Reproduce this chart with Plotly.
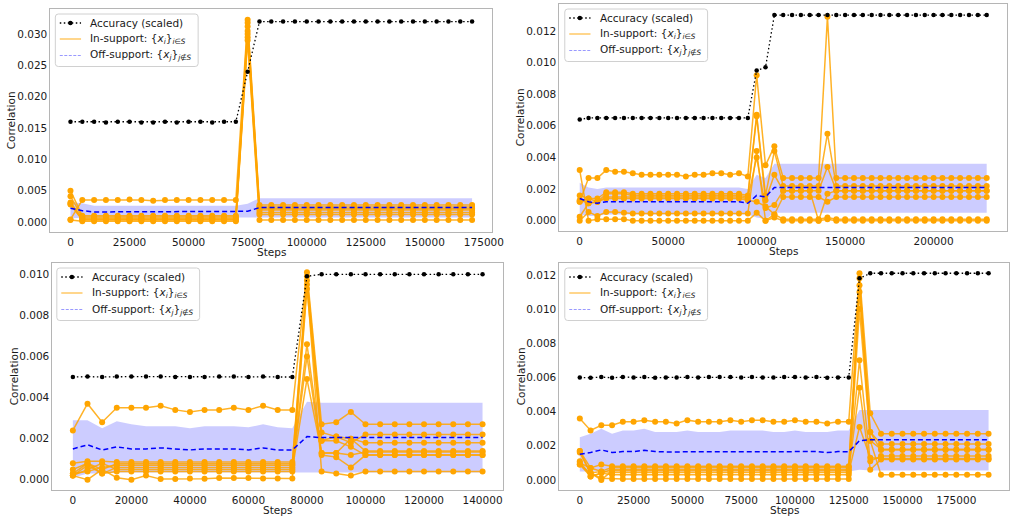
import plotly.graph_objects as go

W, H = 1023, 516

# ---------------- panel A: 0 .. 170000 steps ----------------
steps_a = list(range(0, 170001, 5000))
acc_a = [0.0160, 0.0160, 0.0160, 0.0159, 0.0160,
         0.0160, 0.0159, 0.0159, 0.0160, 0.0159,
         0.0160, 0.0160, 0.0159, 0.0160, 0.0160,
         0.0240, 0.0320, 0.0320, 0.0320, 0.0320,
         0.0320, 0.0320, 0.0320, 0.0320, 0.0320,
         0.0320, 0.0320, 0.0320, 0.0320, 0.0320,
         0.0320, 0.0320, 0.0320, 0.0320, 0.0320]
ins_a = [
    [0.0004, 0.0035, 0.0035, 0.0035, 0.0035,
     0.0036, 0.0035, 0.0034, 0.0035, 0.0035,
     0.0035, 0.0035, 0.0035, 0.0035, 0.0035,
     0.0323, 0.0027, 0.0027, 0.0027, 0.0027,
     0.0027, 0.0027, 0.0027, 0.0027, 0.0027,
     0.0027, 0.0027, 0.0027, 0.0027, 0.0027,
     0.0027, 0.0027, 0.0027, 0.0027, 0.0027],
    [0.0050, 0.0010, 0.0010, 0.0010, 0.0010,
     0.0010, 0.0010, 0.0010, 0.0010, 0.0010,
     0.0010, 0.0010, 0.0010, 0.0010, 0.0010,
     0.0318, 0.0024, 0.0024, 0.0024, 0.0024,
     0.0024, 0.0024, 0.0024, 0.0024, 0.0024,
     0.0024, 0.0024, 0.0024, 0.0024, 0.0024,
     0.0024, 0.0024, 0.0024, 0.0024, 0.0024],
    [0.0041, 0.0008, 0.0008, 0.0008, 0.0008,
     0.0008, 0.0008, 0.0008, 0.0008, 0.0008,
     0.0008, 0.0008, 0.0008, 0.0008, 0.0008,
     0.0312, 0.0021, 0.0021, 0.0021, 0.0021,
     0.0021, 0.0021, 0.0021, 0.0021, 0.0021,
     0.0021, 0.0021, 0.0021, 0.0021, 0.0021,
     0.0021, 0.0021, 0.0021, 0.0021, 0.0021],
    [0.0031, 0.0006, 0.0006, 0.0006, 0.0006,
     0.0006, 0.0006, 0.0006, 0.0006, 0.0006,
     0.0006, 0.0006, 0.0006, 0.0006, 0.0006,
     0.0305, 0.0019, 0.0019, 0.0019, 0.0019,
     0.0019, 0.0019, 0.0019, 0.0019, 0.0019,
     0.0019, 0.0019, 0.0019, 0.0019, 0.0019,
     0.0019, 0.0019, 0.0019, 0.0019, 0.0019],
    [0.0029, 0.0004, 0.0004, 0.0004, 0.0004,
     0.0004, 0.0004, 0.0004, 0.0004, 0.0004,
     0.0004, 0.0004, 0.0004, 0.0004, 0.0004,
     0.0300, 0.0015, 0.0015, 0.0015, 0.0015,
     0.0015, 0.0015, 0.0015, 0.0015, 0.0015,
     0.0015, 0.0015, 0.0015, 0.0015, 0.0015,
     0.0015, 0.0015, 0.0015, 0.0015, 0.0015],
    [0.0028, 0.0003, 0.0003, 0.0003, 0.0003,
     0.0003, 0.0003, 0.0003, 0.0003, 0.0003,
     0.0003, 0.0003, 0.0003, 0.0003, 0.0003,
     0.0295, 0.0012, 0.0012, 0.0012, 0.0012,
     0.0012, 0.0012, 0.0012, 0.0012, 0.0012,
     0.0012, 0.0012, 0.0012, 0.0012, 0.0012,
     0.0012, 0.0012, 0.0012, 0.0012, 0.0012],
    [0.0003, 0.0001, 0.0001, 0.0001, 0.0001,
     0.0001, 0.0001, 0.0001, 0.0001, 0.0001,
     0.0001, 0.0001, 0.0001, 0.0001, 0.0001,
     0.0290, 0.0003, 0.0003, 0.0003, 0.0003,
     0.0003, 0.0003, 0.0003, 0.0003, 0.0003,
     0.0003, 0.0003, 0.0003, 0.0003, 0.0003,
     0.0003, 0.0003, 0.0003, 0.0003, 0.0003],
]
mean_a = [0.0022, 0.0018, 0.0016, 0.0016, 0.0016,
          0.0017, 0.0017, 0.0016, 0.0016, 0.0016,
          0.0016, 0.0016, 0.0016, 0.0016, 0.0016,
          0.0017, 0.0023, 0.0023, 0.0023, 0.0023,
          0.0023, 0.0023, 0.0023, 0.0023, 0.0023,
          0.0023, 0.0023, 0.0023, 0.0023, 0.0023,
          0.0023, 0.0023, 0.0023, 0.0023, 0.0023]
upper_a = [0.0032, 0.0030, 0.0026, 0.0026, 0.0026,
           0.0026, 0.0027, 0.0026, 0.0026, 0.0026,
           0.0026, 0.0026, 0.0026, 0.0026, 0.0026,
           0.0029, 0.0038, 0.0038, 0.0038, 0.0038,
           0.0038, 0.0038, 0.0038, 0.0038, 0.0038,
           0.0038, 0.0038, 0.0038, 0.0038, 0.0038,
           0.0038, 0.0038, 0.0038, 0.0038, 0.0038]
lower_a = [0.0006, 0.0007, 0.0007, 0.0007, 0.0007,
           0.0007, 0.0007, 0.0007, 0.0007, 0.0007,
           0.0007, 0.0007, 0.0007, 0.0007, 0.0007,
           0.0007, 0.0007, 0.0007, 0.0007, 0.0007,
           0.0007, 0.0007, 0.0007, 0.0007, 0.0007,
           0.0007, 0.0007, 0.0007, 0.0007, 0.0007,
           0.0007, 0.0007, 0.0007, 0.0007, 0.0007]

# ---------------- panel B: 0 .. 230000 steps ----------------
steps_b = list(range(0, 230001, 5000))
acc_b = [0.0064, 0.0065, 0.0065, 0.0065, 0.0065,
         0.0065, 0.0065, 0.0065, 0.0065, 0.0065,
         0.0065, 0.0065, 0.0065, 0.0065, 0.0065,
         0.0065, 0.0065, 0.0065, 0.0065, 0.0065,
         0.0095, 0.0097, 0.0130, 0.0130, 0.0130,
         0.0130, 0.0130, 0.0130, 0.0130, 0.0130,
         0.0130, 0.0130, 0.0130, 0.0130, 0.0130,
         0.0130, 0.0130, 0.0130, 0.0130, 0.0130,
         0.0130, 0.0130, 0.0130, 0.0130, 0.0130,
         0.0130, 0.0130]
ins_b = [
    [0.0012, 0.0027, 0.0027, 0.0032, 0.0031,
     0.0031, 0.0030, 0.0029, 0.0029, 0.0029,
     0.0029, 0.0029, 0.0028, 0.0029, 0.0029,
     0.0030, 0.0030, 0.0029, 0.0030, 0.0028,
     0.0092, 0.0035, 0.0047, 0.0027, 0.0027,
     0.0027, 0.0027, 0.0027, 0.0129, 0.0027,
     0.0027, 0.0027, 0.0027, 0.0027, 0.0027,
     0.0027, 0.0027, 0.0027, 0.0027, 0.0027,
     0.0027, 0.0027, 0.0027, 0.0027, 0.0027,
     0.0027, 0.0027],
    [0.0032, 0.0000, 0.0001, 0.0001, 0.0001,
     0.0001, 0.0000, 0.0000, 0.0000, 0.0000,
     0.0000, 0.0000, 0.0000, 0.0000, 0.0000,
     0.0000, 0.0000, 0.0000, 0.0000, 0.0000,
     0.0005, 0.0000, 0.0002, 0.0000, 0.0000,
     0.0000, 0.0000, 0.0000, 0.0001, 0.0000,
     0.0000, 0.0000, 0.0000, 0.0000, 0.0000,
     0.0000, 0.0000, 0.0000, 0.0000, 0.0000,
     0.0000, 0.0000, 0.0000, 0.0000, 0.0000,
     0.0000, 0.0000],
    [0.0000, 0.00055, 0.0003, 0.00055, 0.00055,
     0.0005, 0.00045, 0.00045, 0.00045, 0.00045,
     0.00045, 0.00045, 0.00045, 0.00045, 0.00045,
     0.00045, 0.00045, 0.00045, 0.00045, 0.00045,
     0.0044, 0.0000, 0.0004, 0.0001, 0.0001,
     0.0001, 0.0001, 0.0001, 0.0002, 0.0001,
     0.0001, 0.0001, 0.0001, 0.0001, 0.0001,
     0.0001, 0.0001, 0.0001, 0.0001, 0.0001,
     0.0001, 0.0001, 0.0001, 0.0001, 0.0001,
     0.0001, 0.0001],
    [0.0016, 0.0014, 0.0014, 0.0018, 0.0018,
     0.0018, 0.0017, 0.0017, 0.0017, 0.0017,
     0.0017, 0.0017, 0.0017, 0.0017, 0.0017,
     0.0017, 0.0017, 0.0017, 0.0017, 0.0016,
     0.0067, 0.0016, 0.0044, 0.0022, 0.0022,
     0.0022, 0.0022, 0.0022, 0.0055, 0.0022,
     0.0022, 0.0022, 0.0022, 0.0022, 0.0022,
     0.0022, 0.0022, 0.0022, 0.0022, 0.0022,
     0.0022, 0.0022, 0.0022, 0.0022, 0.0022,
     0.0022, 0.0022],
    [0.0013, 0.0011, 0.0012, 0.0017, 0.0017,
     0.0017, 0.0016, 0.0016, 0.0016, 0.0016,
     0.0016, 0.0016, 0.0016, 0.0016, 0.0016,
     0.0016, 0.0016, 0.0016, 0.0016, 0.0015,
     0.0066, 0.0013, 0.0029, 0.0019, 0.0019,
     0.0019, 0.0019, 0.0019, 0.0034, 0.0019,
     0.0019, 0.0019, 0.0019, 0.0019, 0.0019,
     0.0019, 0.0019, 0.0019, 0.0019, 0.0019,
     0.0019, 0.0019, 0.0019, 0.0019, 0.0019,
     0.0019, 0.0019],
    [0.0012, 0.0014, 0.0012, 0.0015, 0.0015,
     0.0015, 0.0015, 0.0015, 0.0015, 0.0015,
     0.0015, 0.0015, 0.0015, 0.0015, 0.0015,
     0.0015, 0.0015, 0.0015, 0.0015, 0.0014,
     0.0040, 0.0008, 0.0010, 0.0019, 0.0019,
     0.0019, 0.0019, 0.0000, 0.0017, 0.0019,
     0.0019, 0.0019, 0.0019, 0.0019, 0.0019,
     0.0019, 0.0019, 0.0019, 0.0019, 0.0019,
     0.0019, 0.0019, 0.0019, 0.0019, 0.0019,
     0.0019, 0.0019],
    [0.00025, 0.0011, 0.0012, 0.0014, 0.0014,
     0.0014, 0.0014, 0.0014, 0.0014, 0.0014,
     0.0014, 0.0014, 0.0014, 0.0014, 0.0014,
     0.0014, 0.0014, 0.0014, 0.0014, 0.0013,
     0.0012, 0.0009, 0.0004, 0.0015, 0.0015,
     0.0015, 0.0015, 0.0015, 0.0012, 0.0015,
     0.0015, 0.0015, 0.0015, 0.0015, 0.0015,
     0.0015, 0.0015, 0.0015, 0.0015, 0.0015,
     0.0015, 0.0015, 0.0015, 0.0015, 0.0015,
     0.0015, 0.0015],
]
mean_b = [0.0014, 0.0012, 0.0011, 0.0012, 0.0012,
          0.0012, 0.0012, 0.0012, 0.0012, 0.0012,
          0.0012, 0.0012, 0.0012, 0.0012, 0.0012,
          0.0012, 0.0012, 0.0012, 0.0012, 0.0011,
          0.0016, 0.0015, 0.0021, 0.0021, 0.0021,
          0.0021, 0.0021, 0.0021, 0.0021, 0.0021,
          0.0021, 0.0021, 0.0021, 0.0021, 0.0021,
          0.0021, 0.0021, 0.0021, 0.0021, 0.0021,
          0.0021, 0.0021, 0.0021, 0.0021, 0.0021,
          0.0021, 0.0021]
upper_b = [0.0024, 0.0021, 0.0020, 0.0021, 0.0021,
           0.0021, 0.0021, 0.0021, 0.0021, 0.0021,
           0.0021, 0.0021, 0.0021, 0.0021, 0.0021,
           0.0021, 0.0021, 0.0021, 0.0021, 0.0020,
           0.0029, 0.0027, 0.0036, 0.0036, 0.0036,
           0.0036, 0.0036, 0.0036, 0.0036, 0.0036,
           0.0036, 0.0036, 0.0036, 0.0036, 0.0036,
           0.0036, 0.0036, 0.0036, 0.0036, 0.0036,
           0.0036, 0.0036, 0.0036, 0.0036, 0.0036,
           0.0036, 0.0036]
lower_b = [0.0004, 0.0003, 0.0003, 0.0004, 0.0004,
           0.0004, 0.0004, 0.0004, 0.0004, 0.0004,
           0.0004, 0.0004, 0.0004, 0.0004, 0.0004,
           0.0004, 0.0004, 0.0004, 0.0004, 0.0004,
           0.0002, 0.0001, 0.0005, 0.0005, 0.0005,
           0.0005, 0.0005, 0.0005, 0.0005, 0.0005,
           0.0005, 0.0005, 0.0005, 0.0005, 0.0005,
           0.0005, 0.0005, 0.0005, 0.0005, 0.0005,
           0.0005, 0.0005, 0.0005, 0.0005, 0.0005,
           0.0005, 0.0005]

# ---------------- panel C: 0 .. 140000 steps ----------------
steps_c = list(range(0, 140001, 5000))
acc_c = [0.0050, 0.00502, 0.0050, 0.00502, 0.00502,
         0.00502, 0.00502, 0.0050, 0.0050, 0.0050,
         0.00502, 0.00502, 0.0050, 0.00502, 0.0050,
         0.0050, 0.0099, 0.0100, 0.0100, 0.0100,
         0.0100, 0.0100, 0.0100, 0.0100, 0.0100,
         0.0100, 0.0100, 0.0100, 0.0100]
ins_c = [
    [0.0024, 0.0037, 0.0028, 0.0035, 0.0035,
     0.0035, 0.0036, 0.0034, 0.0033, 0.0034,
     0.0034, 0.0035, 0.0034, 0.0036, 0.0034,
     0.0034, 0.0101, 0.0027, 0.0028, 0.0033,
     0.0027, 0.0027, 0.0027, 0.0027, 0.0027,
     0.0027, 0.0027, 0.0027, 0.0027],
    [0.0008, 0.0009, 0.0009, 0.00086, 0.00086,
     0.00086, 0.00086, 0.00086, 0.00086, 0.00086,
     0.00086, 0.00086, 0.00086, 0.00086, 0.00086,
     0.00086, 0.0099, 0.0023, 0.0021, 0.0018,
     0.0022, 0.0022, 0.0022, 0.0022, 0.0022,
     0.0022, 0.0022, 0.0022, 0.0022],
    [0.0005, 0.0008, 0.0005, 0.00078, 0.00078,
     0.00078, 0.00078, 0.00078, 0.00078, 0.00078,
     0.00078, 0.00078, 0.00078, 0.00078, 0.00078,
     0.00078, 0.0097, 0.0019, 0.0021, 0.0020,
     0.0018, 0.0018, 0.0018, 0.0018, 0.0018,
     0.0018, 0.0018, 0.0018, 0.0018],
    [0.0003, 0.0004, 0.0006, 0.0007, 0.0007,
     0.0007, 0.0007, 0.0007, 0.0007, 0.0007,
     0.0007, 0.0007, 0.0007, 0.0007, 0.0007,
     0.0007, 0.0066, 0.0013, 0.0013, 0.0020,
     0.0014, 0.0014, 0.0014, 0.0014, 0.0014,
     0.0014, 0.0014, 0.0014, 0.0014],
    [0.0002, 0.0007, 0.0003, 0.0006, 0.0006,
     0.0006, 0.0006, 0.0006, 0.0006, 0.0006,
     0.0006, 0.0006, 0.0006, 0.0006, 0.0006,
     0.0006, 0.0060, 0.0012, 0.0011, 0.0006,
     0.0012, 0.0012, 0.0012, 0.0012, 0.0012,
     0.0012, 0.0012, 0.0012, 0.0012],
    [0.0002, 0.0005, 0.0008, 0.0005, 0.0005,
     0.0005, 0.0005, 0.0005, 0.0005, 0.0005,
     0.0005, 0.0005, 0.0005, 0.0005, 0.0005,
     0.0005, 0.0049, 0.0013, 0.0013, 0.0012,
     0.00135, 0.00135, 0.00135, 0.00135, 0.00135,
     0.00135, 0.00135, 0.00135, 0.00135],
    [0.0003, 0.0008, 0.0003, 0.0004, 0.0004,
     0.0004, 0.0004, 0.0004, 0.0004, 0.0004,
     0.0004, 0.0004, 0.0004, 0.0004, 0.0004,
     0.0004, 0.0095, 0.0004, 0.0003, 0.0002,
     0.0004, 0.0004, 0.0004, 0.0004, 0.0004,
     0.0004, 0.0004, 0.0004, 0.0004],
    [0.0002, 0.0000, 0.0005, 0.0001, 0.0000,
     0.0002, 0.00003, 0.00003, 0.00006, 0.00005,
     0.00008, 0.00008, 0.00008, 0.00006, 0.00006,
     0.00006, 0.0093, 0.0019, 0.0019, 0.0016,
     0.0012, 0.0012, 0.0012, 0.0012, 0.0012,
     0.0012, 0.0012, 0.0012, 0.0012],
]
mean_c = [0.0015, 0.0017, 0.00145, 0.0016, 0.0015,
          0.0015, 0.00155, 0.0015, 0.00145, 0.0015,
          0.0015, 0.0015, 0.00145, 0.00155, 0.00145,
          0.00145, 0.0021, 0.00205, 0.00205, 0.00205,
          0.00205, 0.00205, 0.00205, 0.00205, 0.00205,
          0.00205, 0.00205, 0.00205, 0.00205]
upper_c = [0.0029, 0.0029, 0.0025, 0.00285, 0.0027,
           0.0026, 0.0026, 0.0026, 0.0025, 0.0026,
           0.0026, 0.0026, 0.00255, 0.0027, 0.00255,
           0.0025, 0.0038, 0.00375, 0.00375, 0.00375,
           0.00375, 0.00375, 0.00375, 0.00375, 0.00375,
           0.00375, 0.00375, 0.00375, 0.00375]
lower_c = [0.0001, 0.0003, 0.0003, 0.00035, 0.00035,
           0.00035, 0.00035, 0.00035, 0.00035, 0.00035,
           0.00035, 0.00035, 0.00035, 0.00035, 0.00035,
           0.00035, 0.00035, 0.00035, 0.00035, 0.00035,
           0.00035, 0.00035, 0.00035, 0.00035, 0.00035,
           0.00035, 0.00035, 0.00035, 0.00035]

# ---------------- panel D: 0 .. 190000 steps ----------------
steps_d = list(range(0, 190001, 5000))
acc_d = [0.0060, 0.00598, 0.00602, 0.00598, 0.00602,
         0.0060, 0.00602, 0.00598, 0.0060, 0.0060,
         0.00602, 0.0060, 0.00602, 0.00602, 0.00602,
         0.0060, 0.00602, 0.0060, 0.0060, 0.00602,
         0.00602, 0.0060, 0.00602, 0.00598, 0.0060,
         0.0060, 0.0118, 0.0121, 0.0121, 0.0121,
         0.0121, 0.0121, 0.0121, 0.0121, 0.0121,
         0.0121, 0.0121, 0.0121, 0.0121]
ins_d = [
    [0.0036, 0.0029, 0.0032, 0.0032, 0.0034,
     0.0034, 0.0035, 0.0034, 0.0034, 0.0033,
     0.0035, 0.0034, 0.0034, 0.0034, 0.0035,
     0.0034, 0.0035, 0.0035, 0.0034, 0.0034,
     0.0035, 0.0034, 0.0034, 0.0033, 0.0034,
     0.0034, 0.0121, 0.0039, 0.0027, 0.0027,
     0.0027, 0.0027, 0.0027, 0.0027, 0.0027,
     0.0027, 0.0027, 0.0027, 0.0027],
    [0.0017, 0.0007, 0.0009, 0.0008, 0.0008,
     0.0008, 0.0008, 0.0008, 0.0008, 0.0008,
     0.0008, 0.0008, 0.0008, 0.0008, 0.0008,
     0.0008, 0.0008, 0.0008, 0.0008, 0.0008,
     0.0008, 0.0008, 0.0008, 0.0008, 0.0008,
     0.0008, 0.0118, 0.0028, 0.0021, 0.0021,
     0.0021, 0.0021, 0.0021, 0.0021, 0.0021,
     0.0021, 0.0021, 0.0021, 0.0021],
    [0.0016, 0.0004, 0.0005, 0.00074, 0.00074,
     0.00074, 0.00074, 0.00074, 0.00074, 0.00074,
     0.00074, 0.00074, 0.00074, 0.00074, 0.00074,
     0.00074, 0.00074, 0.00074, 0.00074, 0.00074,
     0.00074, 0.00074, 0.00074, 0.00074, 0.00074,
     0.00074, 0.0110, 0.0023, 0.0018, 0.0018,
     0.0018, 0.0018, 0.0018, 0.0018, 0.0018,
     0.0018, 0.0018, 0.0018, 0.0018],
    [0.0011, 0.0002, 0.0004, 0.00062, 0.00062,
     0.00062, 0.00062, 0.00062, 0.00062, 0.00062,
     0.00062, 0.00062, 0.00062, 0.00062, 0.00062,
     0.00062, 0.00062, 0.00062, 0.00062, 0.00062,
     0.00062, 0.00062, 0.00062, 0.00062, 0.00062,
     0.00062, 0.0070, 0.0011, 0.0014, 0.0014,
     0.0014, 0.0014, 0.0014, 0.0014, 0.0014,
     0.0014, 0.0014, 0.0014, 0.0014],
    [0.0009, 0.0004, 0.0000, 0.00053, 0.00053,
     0.00053, 0.00053, 0.00053, 0.00053, 0.00053,
     0.00053, 0.00053, 0.00053, 0.00053, 0.00053,
     0.00053, 0.00053, 0.00053, 0.00053, 0.00053,
     0.00053, 0.00053, 0.00053, 0.00053, 0.00053,
     0.00053, 0.0054, 0.0006, 0.0012, 0.0012,
     0.0012, 0.0012, 0.0012, 0.0012, 0.0012,
     0.0012, 0.0012, 0.0012, 0.0012],
    [0.0010, 0.0007, 0.0005, 0.00043, 0.00043,
     0.00043, 0.00043, 0.00043, 0.00043, 0.00043,
     0.00043, 0.00043, 0.00043, 0.00043, 0.00043,
     0.00043, 0.00043, 0.00043, 0.00043, 0.00043,
     0.00043, 0.00043, 0.00043, 0.00043, 0.00043,
     0.00043, 0.0031, 0.0013, 0.00125, 0.00125,
     0.00125, 0.00125, 0.00125, 0.00125, 0.00125,
     0.00125, 0.00125, 0.00125, 0.00125],
    [0.0009, 0.0002, 0.0004, 0.0003, 0.0003,
     0.0003, 0.0003, 0.0003, 0.0003, 0.0003,
     0.0003, 0.0003, 0.0003, 0.0003, 0.0003,
     0.0003, 0.0003, 0.0003, 0.0003, 0.0003,
     0.0003, 0.0003, 0.0003, 0.0003, 0.0003,
     0.0003, 0.0100, 0.0023, 0.0003, 0.0003,
     0.0003, 0.0003, 0.0003, 0.0003, 0.0003,
     0.0003, 0.0003, 0.0003, 0.0003],
    [0.0017, 0.0004, 0.0001, 0.00006, 0.00006,
     0.00006, 0.00006, 0.00006, 0.00006, 0.00006,
     0.00006, 0.00006, 0.00006, 0.00006, 0.00006,
     0.00006, 0.00006, 0.00006, 0.00006, 0.00006,
     0.00006, 0.00006, 0.00006, 0.00006, 0.00006,
     0.00006, 0.0114, 0.0028, 0.00175, 0.00175,
     0.00175, 0.00175, 0.00175, 0.00175, 0.00175,
     0.00175, 0.00175, 0.00175, 0.00175],
]
mean_d = [0.0015, 0.0016, 0.00176, 0.0016, 0.00166,
          0.00166, 0.00174, 0.00166, 0.00164, 0.00164,
          0.00166, 0.00166, 0.00166, 0.00168, 0.00166,
          0.00166, 0.00168, 0.00166, 0.00166, 0.00166,
          0.00168, 0.00166, 0.00166, 0.0016, 0.00166,
          0.00165, 0.0023, 0.00235, 0.00235, 0.00235,
          0.00235, 0.00235, 0.00235, 0.00235, 0.00235,
          0.00235, 0.00235, 0.00235, 0.00235]
upper_d = [0.0025, 0.0027, 0.0030, 0.0027, 0.0029,
           0.0029, 0.0030, 0.0028, 0.0028, 0.0028,
           0.0029, 0.0028, 0.0028, 0.0028, 0.0029,
           0.0029, 0.0029, 0.0029, 0.0028, 0.0028,
           0.0029, 0.0028, 0.0028, 0.0028, 0.0029,
           0.0029, 0.0041, 0.0041, 0.0041, 0.0041,
           0.0041, 0.0041, 0.0041, 0.0041, 0.0041,
           0.0041, 0.0041, 0.0041, 0.0041]
lower_d = [0.0005, 0.0005, 0.0005, 0.0005, 0.0005,
           0.0005, 0.0005, 0.0005, 0.0005, 0.0005,
           0.0005, 0.0005, 0.0005, 0.0005, 0.0005,
           0.0005, 0.0005, 0.0005, 0.0005, 0.0005,
           0.0005, 0.0005, 0.0005, 0.0005, 0.0005,
           0.0005, 0.0006, 0.00055, 0.00055, 0.00055,
           0.00055, 0.00055, 0.00055, 0.00055, 0.00055,
           0.00055, 0.00055, 0.00055, 0.00055]

legend_labels = [
    "Accuracy (scaled)",
    "In-support: {<i>x<sub>i</sub></i>}<sub><i>i</i>∈<i>S</i></sub>",
    "Off-support: {<i>x<sub>j</sub></i>}<sub><i>j</i>∉<i>S</i></sub>",
]

# axis ranges, tick spacing, plot-area boxes (px: left, right, top, bottom)
# and legend box corner (px: left, top)
panels = [
    dict(steps=steps_a, acc=acc_a, ins=ins_a, mean=mean_a, up=upper_a, lo=lower_a,
         xr=[-8500, 178500], yr=[-0.0016, 0.0340], dx=25000, dy=0.005,
         box=(51, 498, 9, 232), leg=(56, 14)),
    dict(steps=steps_b, acc=acc_b, ins=ins_b, mean=mean_b, up=upper_b, lo=lower_b,
         xr=[-11500, 241500], yr=[-0.00065, 0.0137], dx=50000, dy=0.002,
         box=(566, 1019, 4, 231), leg=(571.5, 9)),
    dict(steps=steps_c, acc=acc_c, ins=ins_c, mean=mean_c, up=upper_c, lo=lower_c,
         xr=[-7000, 147000], yr=[-0.0005, 0.01055], dx=20000, dy=0.002,
         box=(53, 509, 263, 490), leg=(57.5, 268)),
    dict(steps=steps_d, acc=acc_d, ins=ins_d, mean=mean_d, up=upper_d, lo=lower_d,
         xr=[-9500, 199500], yr=[-0.00059, 0.0127], dx=25000, dy=0.002,
         box=(566, 1021, 263, 490), leg=(571.5, 268)),
]

FONT = "DejaVu Sans"
FS = 10.5
ORANGE = "#FFA500"
TXT = "#1a1a1a"


def px(v):
    return v / W


def py(v):
    return 1 - v / H


def rounded_box(l, t, r, b, rad=3):
    return (f"M {px(l + rad)},{py(t)} L {px(r - rad)},{py(t)} "
            f"Q {px(r)},{py(t)} {px(r)},{py(t + rad)} L {px(r)},{py(b - rad)} "
            f"Q {px(r)},{py(b)} {px(r - rad)},{py(b)} L {px(l + rad)},{py(b)} "
            f"Q {px(l)},{py(b)} {px(l)},{py(b - rad)} L {px(l)},{py(t + rad)} "
            f"Q {px(l)},{py(t)} {px(l + rad)},{py(t)} Z")


fig = go.Figure()
annotations = []
shapes = []
layout = dict(
    width=W, height=H, autosize=False,
    margin=dict(l=0, r=0, t=0, b=0),
    paper_bgcolor="white", plot_bgcolor="white",
    font=dict(family=FONT, size=FS, color=TXT),
    showlegend=False,
)

for i, p in enumerate(panels):
    n = i + 1
    xa = "x" if n == 1 else f"x{n}"
    ya = "y" if n == 1 else f"y{n}"
    steps = p["steps"]
    for s in [p["acc"], p["mean"], p["up"], p["lo"]] + p["ins"]:
        assert len(s) == len(steps), (n, len(s), len(steps))

    # shaded band for off-support spread
    fig.add_trace(go.Scatter(x=steps, y=p["lo"], xaxis=xa, yaxis=ya, mode="lines",
                             line=dict(width=0, color="rgba(0,0,255,0)"),
                             hoverinfo="skip"))
    fig.add_trace(go.Scatter(x=steps, y=p["up"], xaxis=xa, yaxis=ya, mode="lines",
                             line=dict(width=0, color="rgba(0,0,255,0)"),
                             fill="tonexty", fillcolor="rgba(0,0,255,0.2)",
                             hoverinfo="skip"))
    # in-support features
    for ys in p["ins"]:
        fig.add_trace(go.Scatter(x=steps, y=ys, xaxis=xa, yaxis=ya, mode="lines+markers",
                                 line=dict(color="rgba(255,165,0,0.85)", width=1.5),
                                 marker=dict(color=ORANGE, size=6)))
    # off-support mean
    fig.add_trace(go.Scatter(x=steps, y=p["mean"], xaxis=xa, yaxis=ya, mode="lines",
                             line=dict(color="blue", width=1.5, dash="5px,3px")))
    # accuracy
    fig.add_trace(go.Scatter(x=steps, y=p["acc"], xaxis=xa, yaxis=ya, mode="lines+markers",
                             line=dict(color="black", width=1.3, dash="1.5px,2.5px"),
                             marker=dict(color="black", size=4.5)))

    l, r, t, b = p["box"]
    axis_common = dict(showgrid=False, zeroline=False, showline=True, mirror=True,
                       linecolor="#b5b5b5", linewidth=1, ticks="",
                       tickfont=dict(family=FONT, size=FS, color=TXT))
    layout["xaxis" if n == 1 else f"xaxis{n}"] = dict(
        axis_common, domain=[l / W, r / W], anchor=ya, range=p["xr"],
        tick0=0, dtick=p["dx"], tickformat="d")
    layout["yaxis" if n == 1 else f"yaxis{n}"] = dict(
        axis_common, domain=[1 - b / H, 1 - t / H], anchor=xa, range=p["yr"],
        tick0=0, dtick=p["dy"], tickformat=".3f")

    # legend box drawn by hand (matplotlib-like compact spacing)
    L, T = p["leg"]
    shapes.append(dict(type="path", xref="paper", yref="paper", layer="above",
                       path=rounded_box(L, T, L + 144.5, T + 52.5),
                       fillcolor="rgba(255,255,255,0.8)",
                       line=dict(color="#d0d0d0", width=1)))
    rows = [T + 9, T + 25, T + 41.5]
    s0, s1 = L + 4.5, L + 26
    # accuracy sample: dotted black with one marker
    shapes.append(dict(type="line", xref="paper", yref="paper", layer="above",
                       x0=px(s0), x1=px(s1), y0=py(rows[0]), y1=py(rows[0]),
                       line=dict(color="black", width=1.3, dash="1.5px,2.5px")))
    cx, rr = (s0 + s1) / 2, 2.3
    shapes.append(dict(type="circle", xref="paper", yref="paper", layer="above",
                       x0=px(cx - rr), x1=px(cx + rr),
                       y0=py(rows[0] + rr), y1=py(rows[0] - rr),
                       fillcolor="black", line=dict(color="black", width=0)))
    # in-support sample: pale orange solid
    shapes.append(dict(type="line", xref="paper", yref="paper", layer="above",
                       x0=px(s0), x1=px(s1), y0=py(rows[1]), y1=py(rows[1]),
                       line=dict(color="rgba(255,165,0,0.45)", width=2)))
    # off-support sample: pale blue thin dashed
    shapes.append(dict(type="line", xref="paper", yref="paper", layer="above",
                       x0=px(s0), x1=px(s1), y0=py(rows[2]), y1=py(rows[2]),
                       line=dict(color="rgba(0,0,255,0.4)", width=1, dash="3px,1.5px")))
    for yrow, lab in zip(rows, legend_labels):
        annotations.append(dict(text=lab, xref="paper", yref="paper",
                                x=px(L + 33.5), y=py(yrow), xanchor="left", yanchor="middle",
                                showarrow=False,
                                font=dict(family=FONT, size=FS, color=TXT)))

    annotations.append(dict(text="Steps", xref="paper", yref="paper",
                            x=(l + r) / 2 / W, y=py(b + 20),
                            xanchor="center", yanchor="middle", showarrow=False,
                            font=dict(family=FONT, size=FS, color=TXT)))
    annotations.append(dict(text="Correlation", xref="paper", yref="paper",
                            x=px(l - 39), y=py((t + b) / 2), textangle=-90,
                            xanchor="center", yanchor="middle", showarrow=False,
                            font=dict(family=FONT, size=FS, color=TXT)))

layout["annotations"] = annotations
layout["shapes"] = shapes
fig.update_layout(**layout)
fig.write_html("out.html")
